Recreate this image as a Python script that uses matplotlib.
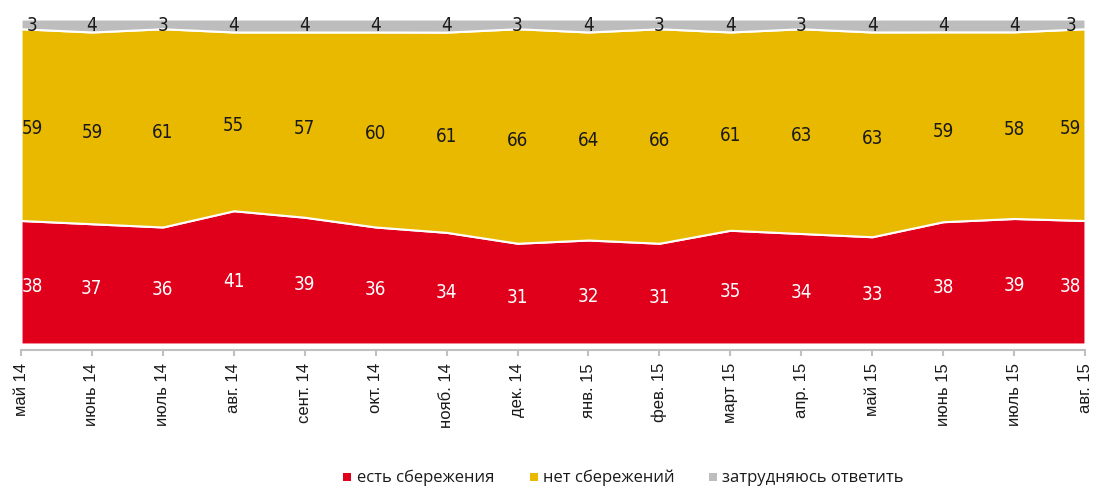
import numpy as np
import matplotlib.pyplot as plt
from matplotlib.patches import Rectangle

plt.rcParams['font.family'] = ['Liberation Sans', 'DejaVu Sans']

# Data
months = ['май 14', 'июнь 14', 'июль 14', 'авг. 14', 'сент. 14', 'окт. 14',
          'нояб. 14', 'дек. 14', 'янв. 15', 'фев. 15', 'март 15', 'апр. 15',
          'май 15', 'июнь 15', 'июль 15', 'авг. 15']
savings = [38, 37, 36, 41, 39, 36, 34, 31, 32, 31, 35, 34, 33, 38, 39, 38]
no_savings = [59, 59, 61, 55, 57, 60, 61, 66, 64, 66, 61, 63, 63, 59, 58, 59]
hard_to_say = [3, 4, 3, 4, 4, 4, 4, 3, 4, 3, 4, 3, 4, 4, 4, 3]

labels = ['есть сбережения', 'нет сбережений', 'затрудняюсь ответить']
colors = ['#e0001b', '#e9b900', '#bdbdbd']

a = np.array(savings, float)
b = np.array(no_savings, float)
c = np.array(hard_to_say, float)
tot = a + b + c
a_n, b_n, c_n = a / tot * 100, b / tot * 100, c / tot * 100

x = np.arange(len(months))
W, H = 1094, 489

fig = plt.figure(figsize=(W / 100, H / 100), dpi=100)
ax = fig.add_axes([21 / W, 1 - 345 / H, 1064 / W, 325 / H])

ax.stackplot(x, a_n, b_n, c_n, colors=colors, edgecolor='white', linewidth=1.5)

ax.set_xlim(0, len(months) - 1)
ax.set_ylim(0, 100)

# condensed font for the values inside the areas
lbl = dict(family='DejaVu Sans', stretch='condensed', fontsize=13.5,
           ha='center', va='center')
for i in x:
    dx = 0
    if i == 0:
        dx = 0.16
    if i == len(months) - 1:
        dx = -0.2
    ax.text(i + dx, a_n[i] / 2 - 1, str(savings[i]), color='white', **lbl)
    ax.text(i + dx, a_n[i] + b_n[i] / 2 - 1, str(no_savings[i]), color='#1a1a1a', **lbl)
    ax.text(i + dx, 98.3, str(hard_to_say[i]), color='#1a1a1a', **lbl)

ax.set_yticks([])
for s in ['top', 'left', 'right']:
    ax.spines[s].set_visible(False)
ax.spines['bottom'].set_color('#c0c0c0')
ax.spines['bottom'].set_linewidth(1.5)
ax.spines['bottom'].set_position(('outward', 4))

ax.set_xticks(x)
ax.set_xticklabels(months, rotation=90, fontsize=12, color='#1a1a1a')
ax.tick_params(axis='x', length=4, width=1.5, color='#c0c0c0', pad=5)

# legend drawn by hand: square + text
sq_x = [343, 530, 709]
txt_x = [357, 543, 722]
ly = 478
for col, lab, sx, tx in zip(colors, labels, sq_x, txt_x):
    fig.add_artist(Rectangle((sx / W, 1 - (ly + 4) / H), 8 / W, 8 / H,
                             transform=fig.transFigure, color=col, lw=0))
    fig.text(tx / W, 1 - ly / H, lab, family='Open Sans', fontsize=12,
             color='#1a1a1a', ha='left', va='center')

fig.savefig('out.png', dpi=100)
